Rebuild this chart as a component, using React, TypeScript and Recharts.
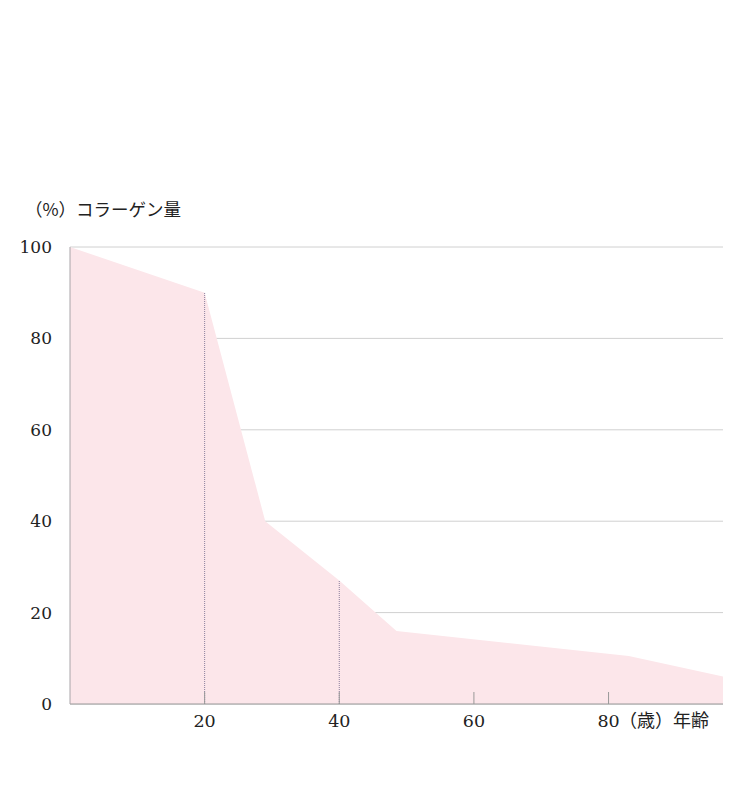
import {
  Area,
  CartesianGrid,
  ComposedChart,
  Label,
  ReferenceLine,
  XAxis,
  YAxis,
} from 'recharts'

const ages = [0, 20, 29, 40, 48.5, 83, 97]
const collagen = [100, 90, 40, 27, 16, 10.5, 6]
const markerAges = [20, 40]
const xTicks = [20, 40, 60, 80]
const yTicks = [0, 20, 40, 60, 80, 100]
const yTitle = '（%）コラーゲン量'
const xTitle = '（歳）年齢'

const FONT = '"Noto Sans CJK JP", "Noto Sans", sans-serif'
const NUM_FONT = '"DejaVu Serif", serif'

const data = ages.map((age, i) => ({ age, value: collagen[i] }))

const valueAt = (age: number) => collagen[ages.indexOf(age)]

function XTick(props: any) {
  const { x, y, payload } = props
  return (
    <g>
      <line x1={x} x2={x} y1={y - 12} y2={y} stroke="#999" />
      <text
        x={x}
        y={y + 23}
        textAnchor="middle"
        fill="#222"
        fontSize={17.5}
        fontFamily={NUM_FONT}
      >
        {payload.value}
      </text>
    </g>
  )
}

export default function App() {
  return (
    <div style={{ fontFamily: FONT }}>
      <ComposedChart
        width={742}
        height={777}
        data={data}
        margin={{ top: 239, right: 27, bottom: 51, left: 0 }}
      >
        <CartesianGrid vertical={false} stroke="#d0d0d0" />
        <XAxis
          dataKey="age"
          type="number"
          domain={[0, 97]}
          ticks={xTicks}
          tickSize={0}
          tickMargin={0}
          tickLine={false}
          tick={<XTick />}
          axisLine={{ stroke: '#999' }}
          height={30}
        >
          <Label
            content={({ viewBox }: any) => (
              <text
                x={viewBox.x + viewBox.width - 14}
                y={viewBox.y + 23}
                textAnchor="end"
                fill="#222"
                fontSize={18}
              >
                {xTitle}
              </text>
            )}
          />
        </XAxis>
        <YAxis
          type="number"
          domain={[0, 100]}
          ticks={yTicks}
          width={62}
          tickLine={false}
          tickMargin={12}
          axisLine={{ stroke: '#a8a4a8' }}
          tick={{ fill: '#222', fontSize: 17, fontFamily: NUM_FONT }}
        >
          <Label
            content={({ viewBox }: any) => (
              <text x={17} y={viewBox.y - 31} fill="#222" fontSize={17.5}>
                {yTitle}
              </text>
            )}
          />
        </YAxis>
        <Area
          dataKey="value"
          type="linear"
          fill="#fce6ea"
          fillOpacity={1}
          stroke="none"
          isAnimationActive={false}
        />
        {markerAges.map((a) => (
          <ReferenceLine
            key={a}
            segment={[
              { x: a, y: 0 },
              { x: a, y: valueAt(a) },
            ]}
            stroke="#8a7f9c"
            strokeDasharray="1 1"
          />
        ))}
      </ComposedChart>
    </div>
  )
}
